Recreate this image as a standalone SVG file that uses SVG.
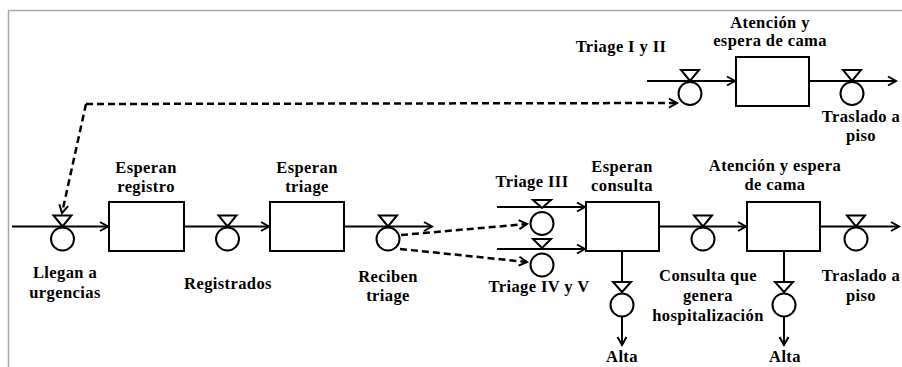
<svg xmlns="http://www.w3.org/2000/svg" width="902" height="367" viewBox="0 0 902 367">
  <style>
    .flow { fill: none; stroke: #000; stroke-width: 2; }
    .info { fill: none; stroke: #000; stroke-width: 2.5; stroke-dasharray: 7 4; }
    .stock { fill: #fff; stroke: #000; stroke-width: 2; }
    .valve { fill: #fff; stroke: #000; stroke-width: 2; }
    .lbl { font-family: "Liberation Serif", "Times New Roman", serif; font-weight: bold; font-size: 16.5px; letter-spacing: 0.4px; fill: #000; text-anchor: middle; }
    .frame { fill: none; stroke: #a9a9a9; stroke-width: 1.5; }
  </style>
  <defs>
    <marker id="arr" markerUnits="userSpaceOnUse" markerWidth="12" markerHeight="12" refX="9" refY="6" orient="auto">
      <path d="M1,1.5 L9,6 L1,10.5" fill="none" stroke="#000" stroke-width="2"/>
    </marker>
    <!-- valve symbol: triangle above the flow line, circle below it -->
    <g id="valveH">
      <path class="valve" d="M-9,-11 L9,-11 L0,0 Z"/>
      <circle class="valve" cx="0" cy="12.5" r="11.5"/>
    </g>
  </defs>

  <!-- frame -->
  <path class="frame" d="M8.5,367 L8.5,10.5 L902,10.5"/>

  <!-- connectors -->
  <g id="connectors">
    <!-- main chain -->
    <line class="flow" x1="12" y1="226.5" x2="108" y2="226.5" marker-end="url(#arr)"/>
    <line class="flow" x1="184" y1="226.5" x2="269" y2="226.5" marker-end="url(#arr)"/>
    <line class="flow" x1="344" y1="226.5" x2="432" y2="226.5" marker-end="url(#arr)"/>
    <line class="flow" x1="497" y1="207" x2="585" y2="207" marker-end="url(#arr)"/>
    <line class="flow" x1="497" y1="249" x2="585" y2="249" marker-end="url(#arr)"/>
    <line class="flow" x1="659" y1="226.5" x2="746" y2="226.5" marker-end="url(#arr)"/>
    <line class="flow" x1="820" y1="226.5" x2="899" y2="226.5" marker-end="url(#arr)"/>
    <!-- discharges -->
    <line class="flow" x1="622" y1="251" x2="622" y2="345" marker-end="url(#arr)"/>
    <line class="flow" x1="784" y1="251" x2="784" y2="345" marker-end="url(#arr)"/>
    <!-- upper chain -->
    <line class="flow" x1="647" y1="81" x2="735" y2="81" marker-end="url(#arr)"/>
    <line class="flow" x1="809" y1="81" x2="896" y2="81" marker-end="url(#arr)"/>
    <!-- information links -->
    <line class="info" x1="86" y1="104" x2="62" y2="213" marker-end="url(#arr)"/>
    <line class="info" x1="86" y1="104" x2="677" y2="103" marker-end="url(#arr)"/>
    <line class="info" x1="401" y1="235" x2="527" y2="224" marker-end="url(#arr)"/>
    <line class="info" x1="400" y1="249" x2="527" y2="262" marker-end="url(#arr)"/>
  </g>

  <!-- stocks -->
  <g id="esperan-registro">
    <rect class="stock" x="109" y="202" width="75" height="49"/>
    <text class="lbl" x="146" y="173">Esperan</text>
    <text class="lbl" x="146" y="192">registro</text>
  </g>
  <g id="esperan-triage">
    <rect class="stock" x="270" y="202" width="74" height="49"/>
    <text class="lbl" x="307" y="173">Esperan</text>
    <text class="lbl" x="307" y="192">triage</text>
  </g>
  <g id="esperan-consulta">
    <rect class="stock" x="586" y="202" width="73" height="49"/>
    <text class="lbl" x="622" y="172">Esperan</text>
    <text class="lbl" x="622" y="191">consulta</text>
  </g>
  <g id="atencion-cama">
    <rect class="stock" x="747" y="202" width="73" height="49"/>
    <text class="lbl" x="775" y="171">Atención y espera</text>
    <text class="lbl" x="775" y="190">de cama</text>
  </g>
  <g id="atencion-cama-grave">
    <rect class="stock" x="736" y="57" width="73" height="49"/>
    <text class="lbl" x="770" y="28">Atención y</text>
    <text class="lbl" x="770" y="46">espera de cama</text>
  </g>

  <!-- rates -->
  <g id="llegan">
    <use href="#valveH" x="62.5" y="226.5"/>
    <text class="lbl" x="65" y="278">Llegan a</text>
    <text class="lbl" x="65" y="298">urgencias</text>
  </g>
  <g id="registrados">
    <use href="#valveH" x="227.5" y="226.5"/>
    <text class="lbl" x="228" y="289">Registrados</text>
  </g>
  <g id="reciben-triage">
    <use href="#valveH" x="388" y="226.5"/>
    <text class="lbl" x="388" y="282">Reciben</text>
    <text class="lbl" x="388" y="301">triage</text>
  </g>
  <g id="triage-iii">
    <path class="valve" d="M533,200 L551,200 L542,208 Z"/>
    <circle class="valve" cx="542" cy="223.5" r="11.5"/>
    <text class="lbl" x="532" y="187">Triage III</text>
  </g>
  <g id="triage-iv-v">
    <path class="valve" d="M533,239 L551,239 L542,248 Z"/>
    <circle class="valve" cx="542" cy="265" r="11.5"/>
    <text class="lbl" x="539" y="292">Triage IV  y V</text>
  </g>
  <g id="consulta-hospitalizacion">
    <use href="#valveH" x="703" y="226.5"/>
    <text class="lbl" x="708" y="281">Consulta que</text>
    <text class="lbl" x="708" y="301">genera</text>
    <text class="lbl" x="708" y="321">hospitalización</text>
  </g>
  <g id="traslado-piso">
    <use href="#valveH" x="856" y="226.5"/>
    <text class="lbl" x="861" y="281">Traslado a</text>
    <text class="lbl" x="861" y="301">piso</text>
  </g>
  <g id="alta-consulta">
    <path class="valve" d="M613,282 L631,282 L622,292 Z"/>
    <circle class="valve" cx="622" cy="305" r="11.5"/>
    <text class="lbl" x="622" y="362">Alta</text>
  </g>
  <g id="alta-atencion">
    <path class="valve" d="M775,282 L793,282 L784,292 Z"/>
    <circle class="valve" cx="784" cy="305" r="11.5"/>
    <text class="lbl" x="785" y="362">Alta</text>
  </g>
  <g id="triage-i-ii">
    <use href="#valveH" x="690" y="81"/>
    <text class="lbl" x="621" y="52">Triage I y II</text>
  </g>
  <g id="traslado-piso-grave">
    <use href="#valveH" x="852" y="81"/>
    <text class="lbl" x="861" y="122">Traslado a</text>
    <text class="lbl" x="861" y="141">piso</text>
  </g>
</svg>
